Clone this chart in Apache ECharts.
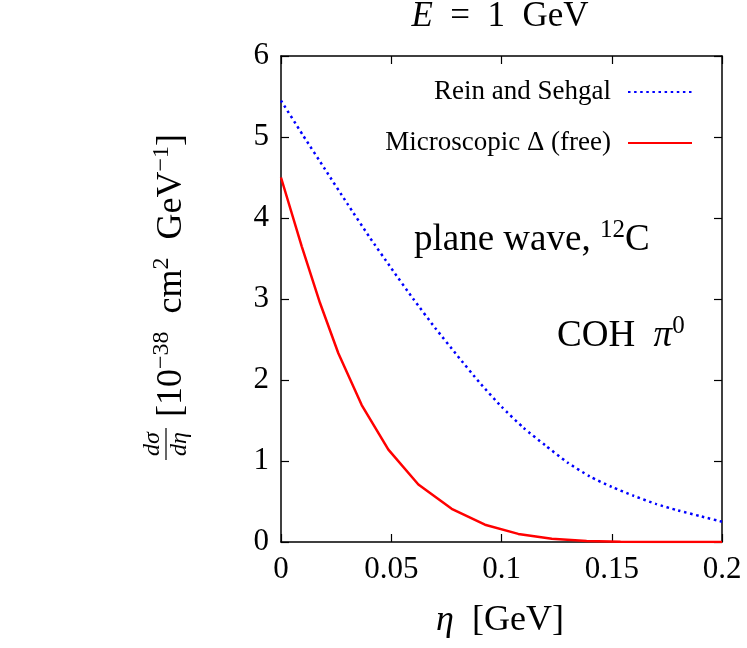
<!DOCTYPE html>
<html>
<head>
<meta charset="utf-8">
<script src="https://cdn.jsdelivr.net/npm/echarts@6/dist/echarts.min.js"></script>
<style>
html,body{margin:0;padding:0;background:#fff;}
#c{width:747px;height:648px;}
</style>
</head>
<body>
<div id="c"></div>
<script>
// Rein and Sehgal (dotted blue)
const rsEta = [0, 0.01, 0.02, 0.03, 0.04, 0.05, 0.06, 0.07, 0.08, 0.09, 0.10, 0.11, 0.12, 0.13, 0.14, 0.15, 0.16, 0.17, 0.18, 0.19, 0.20];
const rsVal = [5.45, 5.02, 4.60, 4.18, 3.77, 3.38, 3.00, 2.64, 2.30, 1.97, 1.67, 1.41, 1.19, 0.98, 0.81, 0.68, 0.57, 0.47, 0.39, 0.32, 0.25];
// Microscopic Delta (free) (solid red)
const micEta = [0, 0.0094, 0.0177, 0.026, 0.0366, 0.0487, 0.0623, 0.0774, 0.0925, 0.1076, 0.1228, 0.1386, 0.154, 0.17, 0.185, 0.2];
const micVal = [4.50, 3.65, 2.95, 2.33, 1.69, 1.14, 0.71, 0.41, 0.213, 0.10, 0.04, 0.012, 0.004, 0.001, 0.0, 0.0];
const xTicks = [0, 0.05, 0.1, 0.15, 0.2];
const yTicks = [0, 1, 2, 3, 4, 5, 6];
const seriesNames = ['Rein and Sehgal', 'Microscopic Δ (free)'];

const FONT = '"Liberation Serif", "DejaVu Serif", serif';
const chart = echarts.init(document.getElementById('c'));
const axisCommon = {
  axisLine: {show: true, onZero: false, lineStyle: {color: '#000', width: 1.5}},
  axisTick: {show: true, inside: true, length: 8, lineStyle: {color: '#000', width: 1.2}},
  splitLine: {show: false}
};
const EN = '\u2002';
const supRich = (main, sup) => ({
  m: {fontFamily: FONT, fontSize: main, lineHeight: main + 8, fill: '#000', color: '#000'},
  i: {fontFamily: FONT, fontSize: main, lineHeight: main + 8, fontStyle: 'italic', fill: '#000', color: '#000'},
  s: {fontFamily: FONT, fontSize: sup, lineHeight: sup - 2, verticalAlign: 'top', fill: '#000', color: '#000'}
});
chart.setOption({
  animation: false,
  backgroundColor: '#fff',
  grid: {left: 281, right: 25, top: 56, bottom: 106},
  legend: {
    orient: 'vertical', align: 'right', right: 49, top: 72,
    itemWidth: 64, itemHeight: 14, itemGap: 21,
    itemStyle: {opacity: 0},
    textStyle: {fontFamily: FONT, fontSize: 27, color: '#000', lineHeight: 30, padding: [0, 12, 0, 0]},
    data: seriesNames
  },
  xAxis: [{
    type: 'value', min: 0, max: 0.2, interval: 0.05,
    ...axisCommon,
    axisLabel: {fontFamily: FONT, fontSize: 31, color: '#000', margin: 12,
      formatter: v => String(+v.toFixed(2))}
  }, {
    type: 'value', min: 0, max: 0.2, interval: 0.05, position: 'top',
    ...axisCommon, axisLabel: {show: false}
  }],
  yAxis: [{
    type: 'value', min: 0, max: 6, interval: 1,
    ...axisCommon,
    axisLabel: {fontFamily: FONT, fontSize: 31, color: '#000', margin: 12}
  }, {
    type: 'value', min: 0, max: 6, interval: 1, position: 'right',
    ...axisCommon, axisLabel: {show: false}
  }],
  graphic: [
    // title
    {type: 'text', x: 500, y: 17,
      style: {text: '{i|E}{m|' + EN + '=' + EN + '1' + EN + 'GeV}', align: 'center', verticalAlign: 'middle',
        rich: supRich(35, 24)}},
    // x axis name
    {type: 'text', x: 500, y: 621,
      style: {text: '{i|η}{m|' + EN + '[GeV]}', align: 'center', verticalAlign: 'middle',
        rich: supRich(36, 24)}},
    // y axis name (rotated)
    {type: 'group', x: 172, y: 293, rotation: Math.PI / 2, children: [
      {type: 'text', x: -124, y: 0,
        style: {text: '{m|[10}{s|−38}{m|' + EN + 'cm}{s|2}{m|' + EN + 'GeV}{s|−1}{m|]}', align: 'left', verticalAlign: 'middle',
          rich: supRich(36, 24)}},
      {type: 'text', x: -151, y: -7,
        style: {text: 'dσ', fontFamily: FONT, fontStyle: 'italic', fontSize: 24, fill: '#000', align: 'center', verticalAlign: 'bottom'}},
      {type: 'line', shape: {x1: -167, y1: -6, x2: -135, y2: -6}, style: {stroke: '#000', lineWidth: 1.2}},
      {type: 'text', x: -151, y: -4,
        style: {text: 'dη', fontFamily: FONT, fontStyle: 'italic', fontSize: 24, fill: '#000', align: 'center', verticalAlign: 'top'}}
    ]},
    // annotations
    {type: 'text', x: 414, y: 240,
      style: {text: '{m|plane wave, }{s|12}{m|C}', align: 'left', verticalAlign: 'middle',
        rich: supRich(37, 25)}},
    {type: 'text', x: 557, y: 336,
      style: {text: '{m|COH' + EN + '}{i|π}{s|0}', align: 'left', verticalAlign: 'middle',
        rich: supRich(37, 25)}}
  ],
  series: [{
    name: seriesNames[0], type: 'line', showSymbol: false, symbol: 'none',
    data: rsEta.map((x, i) => [x, rsVal[i]]), smooth: 0.2,
    lineStyle: {color: '#0000ff', width: 2.5, type: [2.5, 3.6]},
    itemStyle: {color: '#0000ff'}
  }, {
    name: seriesNames[1], type: 'line', showSymbol: false, symbol: 'none',
    data: micEta.map((x, i) => [x, micVal[i]]),
    lineStyle: {color: '#ff0000', width: 2.5},
    itemStyle: {color: '#ff0000'}
  }]
});
</script>
</body>
</html>
